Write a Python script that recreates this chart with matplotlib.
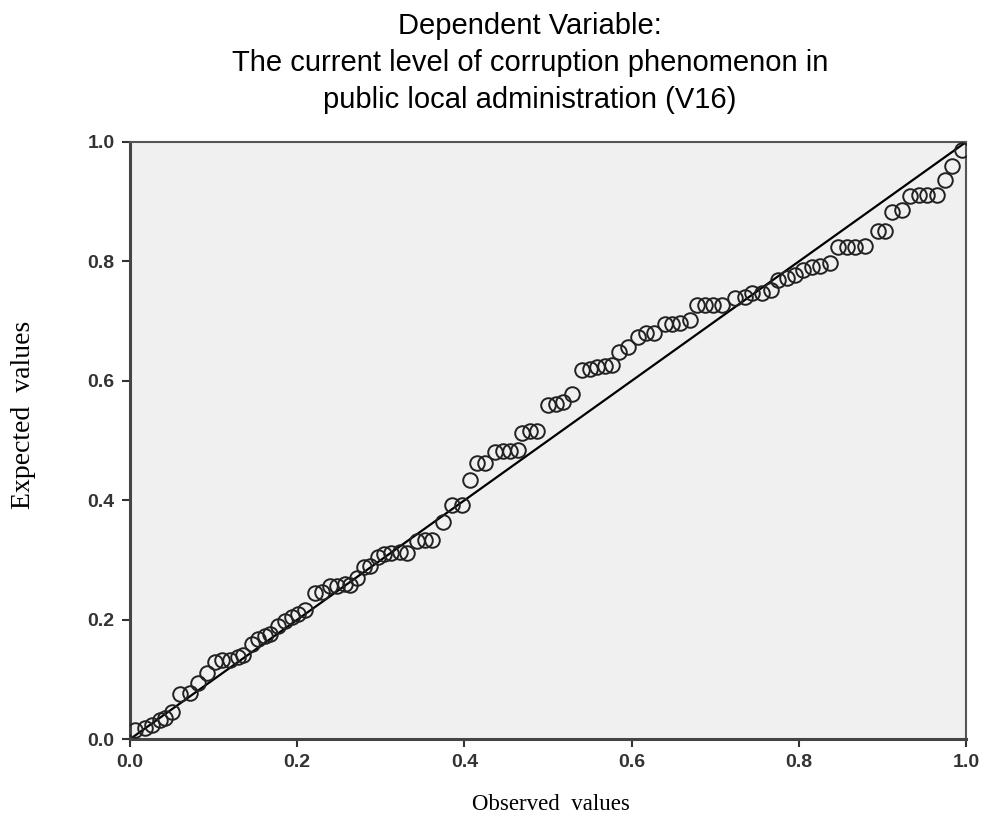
import matplotlib.pyplot as plt
import numpy as np

observed = [0.006, 0.018, 0.026, 0.036, 0.042, 0.050, 0.060, 0.072, 0.081, 0.092,
            0.102, 0.110, 0.120, 0.129, 0.135, 0.146, 0.153, 0.161, 0.167, 0.177,
            0.185, 0.194, 0.201, 0.209, 0.221, 0.230, 0.239, 0.248, 0.257, 0.263,
            0.272, 0.280, 0.287, 0.297, 0.304, 0.312, 0.323, 0.331, 0.343, 0.353,
            0.361, 0.374, 0.385, 0.397, 0.407, 0.415, 0.425, 0.437, 0.446, 0.455,
            0.464, 0.469, 0.478, 0.487, 0.500, 0.510, 0.518, 0.529, 0.541, 0.550,
            0.559, 0.568, 0.577, 0.585, 0.596, 0.608, 0.617, 0.627, 0.640, 0.648,
            0.658, 0.670, 0.678, 0.688, 0.697, 0.708, 0.724, 0.736, 0.744, 0.756,
            0.766, 0.775, 0.786, 0.795, 0.805, 0.816, 0.825, 0.837, 0.847, 0.858,
            0.867, 0.879, 0.895, 0.903, 0.911, 0.923, 0.933, 0.943, 0.953, 0.965,
            0.975, 0.983, 0.995]
expected = [0.015, 0.018, 0.023, 0.032, 0.035, 0.045, 0.075, 0.077, 0.094, 0.111,
            0.129, 0.132, 0.132, 0.137, 0.141, 0.159, 0.168, 0.173, 0.176, 0.189,
            0.198, 0.204, 0.209, 0.216, 0.245, 0.246, 0.256, 0.256, 0.260, 0.258,
            0.270, 0.288, 0.290, 0.305, 0.310, 0.312, 0.313, 0.312, 0.332, 0.333,
            0.333, 0.363, 0.392, 0.392, 0.434, 0.462, 0.462, 0.481, 0.482, 0.482,
            0.484, 0.513, 0.516, 0.516, 0.559, 0.561, 0.564, 0.578, 0.618, 0.620,
            0.623, 0.625, 0.626, 0.648, 0.657, 0.673, 0.680, 0.680, 0.695, 0.695,
            0.697, 0.702, 0.727, 0.727, 0.727, 0.727, 0.739, 0.740, 0.747, 0.747,
            0.752, 0.769, 0.772, 0.777, 0.786, 0.791, 0.792, 0.797, 0.824, 0.824,
            0.824, 0.826, 0.851, 0.851, 0.883, 0.886, 0.910, 0.911, 0.911, 0.911,
            0.936, 0.960, 0.987]

ticks = [0.0, 0.2, 0.4, 0.6, 0.8, 1.0]

fig = plt.figure(figsize=(9.92, 8.25), dpi=100)
ax = fig.add_axes([0.131, 0.104, 0.843, 0.724])
ax.set_facecolor('#f0f0f0')

ax.plot([0, 1], [0, 1], color='black', lw=1.6, zorder=2)
ax.plot(observed, expected, 'o', mfc='none', mec='#222222', ms=10.5, mew=1.4, zorder=3)

ax.set_xlim(0, 1)
ax.set_ylim(0, 1)
ax.set_xticks(ticks)
ax.set_yticks(ticks)
ax.set_xticklabels([f'{t:.1f}' for t in ticks])
ax.set_yticklabels([f'{t:.1f}' for t in ticks])
ax.tick_params(direction='out', length=6, width=1.5, colors='#333333',
               labelsize=14, pad=5)
for lab in ax.get_xticklabels() + ax.get_yticklabels():
    lab.set_fontfamily('Liberation Sans')
    lab.set_fontweight('bold')

for side in ['left', 'bottom']:
    ax.spines[side].set_linewidth(2.2)
    ax.spines[side].set_color('#444444')
for side in ['top', 'right']:
    ax.spines[side].set_linewidth(1.5)
    ax.spines[side].set_color('#555555')

fig.text(0.534, 0.985, 'Dependent Variable:\nThe current level of corruption phenomenon in\npublic local administration (V16)',
         ha='center', va='top', fontsize=21, family='Liberation Sans', linespacing=1.4)
fig.text(0.024, 0.497, 'Expected  values', rotation=90, ha='center', va='center',
         fontsize=20, family='Liberation Serif')
fig.text(0.555, 0.025, 'Observed  values', ha='center', va='center',
         fontsize=16.5, family='Liberation Serif')

fig.savefig('out.png', dpi=100)
